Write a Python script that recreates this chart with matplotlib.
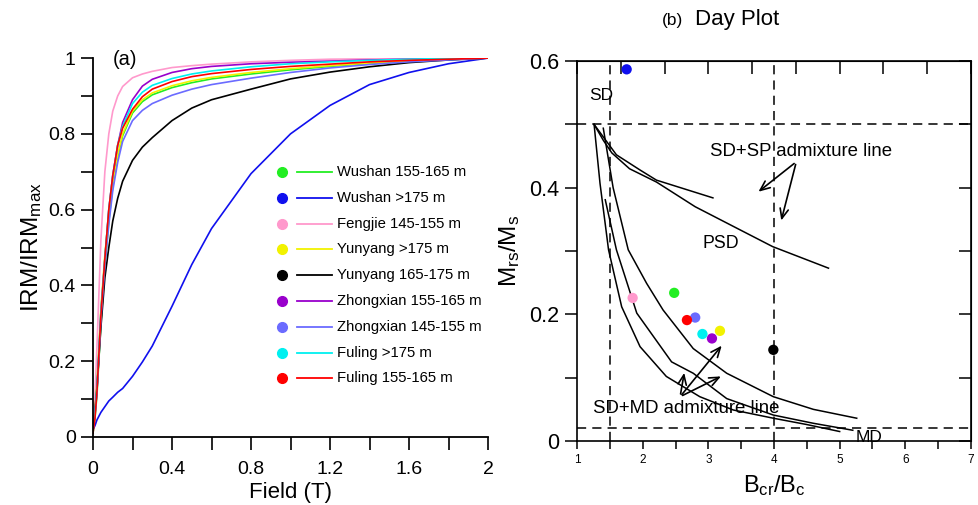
import matplotlib
matplotlib.use("Agg")
import matplotlib.pyplot as plt
import numpy as np

plt.rcParams['font.family'] = ['Liberation Sans', 'DejaVu Sans']
plt.rcParams['mathtext.fontset'] = 'custom'
plt.rcParams['mathtext.rm'] = 'Liberation Sans'
plt.rcParams['mathtext.it'] = 'Liberation Sans'

# ---- data ----
names = ['Wushan 155-165 m', 'Wushan >175 m', 'Fengjie 145-155 m', 'Yunyang >175 m',
         'Yunyang 165-175 m', 'Zhongxian 155-165 m', 'Zhongxian 145-155 m',
         'Fuling >175 m', 'Fuling 155-165 m']
colors = ['#22ee22', '#1010ee', '#ff99cc', '#f2f200', '#000000',
          '#9900cc', '#6b6bff', '#00f0f0', '#ff0000']

field = [0, 0.01, 0.02, 0.04, 0.06, 0.08, 0.1, 0.125, 0.15, 0.2, 0.25, 0.3,
         0.4, 0.5, 0.6, 0.8, 1.0, 1.2, 1.4, 1.6, 1.8, 2.0]
irm_wushan_155 = [0.01, 0.05, 0.11, 0.30, 0.45, 0.57, 0.66, 0.74, 0.795, 0.855, 0.885, 0.903,
                  0.922, 0.935, 0.945, 0.958, 0.969, 0.978, 0.986, 0.992, 0.996, 1.0]
irm_wushan_175 = [0.02, 0.03, 0.045, 0.065, 0.08, 0.095, 0.105, 0.118, 0.128, 0.16, 0.198, 0.24,
                  0.345, 0.455, 0.55, 0.695, 0.80, 0.875, 0.93, 0.962, 0.985, 1.0]
irm_fengjie_145 = [0.02, 0.11, 0.24, 0.52, 0.70, 0.80, 0.86, 0.90, 0.925, 0.948, 0.958, 0.965,
                   0.975, 0.98, 0.984, 0.99, 0.994, 0.997, 0.998, 0.999, 1.0, 1.0]
irm_yunyang_175 = [0.02, 0.07, 0.14, 0.34, 0.48, 0.59, 0.67, 0.745, 0.80, 0.86, 0.89, 0.908,
                   0.927, 0.94, 0.949, 0.962, 0.972, 0.98, 0.987, 0.993, 0.997, 1.0]
irm_yunyang_165 = [0.03, 0.07, 0.13, 0.29, 0.42, 0.50, 0.57, 0.63, 0.675, 0.73, 0.765, 0.79,
                   0.835, 0.868, 0.89, 0.918, 0.945, 0.963, 0.977, 0.988, 0.995, 1.0]
irm_zhongxian_155 = [0.02, 0.06, 0.12, 0.33, 0.47, 0.60, 0.69, 0.77, 0.83, 0.89, 0.926, 0.944,
                     0.962, 0.972, 0.978, 0.985, 0.989, 0.992, 0.995, 0.997, 0.999, 1.0]
irm_zhongxian_145 = [0.02, 0.06, 0.12, 0.31, 0.45, 0.56, 0.65, 0.725, 0.78, 0.835, 0.862, 0.88,
                     0.902, 0.918, 0.93, 0.947, 0.962, 0.974, 0.983, 0.99, 0.995, 1.0]
irm_fuling_175 = [0.02, 0.06, 0.13, 0.33, 0.47, 0.60, 0.69, 0.77, 0.82, 0.88, 0.91, 0.928,
                  0.946, 0.958, 0.966, 0.977, 0.985, 0.99, 0.994, 0.997, 0.999, 1.0]
irm_fuling_155 = [0.01, 0.05, 0.12, 0.32, 0.47, 0.60, 0.69, 0.77, 0.815, 0.865, 0.898, 0.918,
                  0.938, 0.951, 0.959, 0.97, 0.978, 0.984, 0.99, 0.994, 0.997, 1.0]
irm_curves = [irm_wushan_155, irm_wushan_175, irm_fengjie_145, irm_yunyang_175,
              irm_yunyang_165, irm_zhongxian_155, irm_zhongxian_145,
              irm_fuling_175, irm_fuling_155]

# Day plot points (same order as names)
bcr_bc = [2.48, 1.756, 1.847, 3.177, 3.99, 3.055, 2.80, 2.91, 2.674]
mrs_ms = [0.234, 0.587, 0.226, 0.174, 0.144, 0.162, 0.195, 0.169, 0.191]

# reference mixing curves (Dunlop 2002)
sdmd1_x = [1.26, 1.35, 1.48, 1.68, 1.96, 2.36, 2.87, 3.38, 3.99, 4.5, 5.0]
sdmd1_y = [0.50, 0.407, 0.302, 0.212, 0.149, 0.102, 0.070, 0.049, 0.036, 0.026, 0.015]
sdmd2_x = [1.43, 1.60, 1.91, 2.44, 2.77, 3.28, 3.99, 4.6, 5.2]
sdmd2_y = [0.381, 0.302, 0.202, 0.125, 0.107, 0.067, 0.041, 0.028, 0.017]
sdmd3_x = [1.40, 1.55, 1.78, 2.06, 2.31, 2.77, 3.28, 3.99, 4.6, 5.26]
sdmd3_y = [0.494, 0.40, 0.302, 0.249, 0.207, 0.146, 0.107, 0.070, 0.050, 0.036]
sdsp1_x = [1.26, 1.60, 1.96, 2.21, 3.07]
sdsp1_y = [0.50, 0.452, 0.428, 0.412, 0.384]
sdsp2_x = [1.26, 1.40, 1.53, 1.80, 2.21, 2.80, 3.38, 3.98, 4.83]
sdsp2_y = [0.50, 0.475, 0.455, 0.43, 0.409, 0.37, 0.339, 0.307, 0.273]

fig = plt.figure(figsize=(9.79, 5.05), dpi=100)

# ---- (a) IRM acquisition ----
ax1 = fig.add_axes([0.095, 0.1347, 0.4035, 0.7503])
for y, c in zip(irm_curves, colors):
    ax1.plot(field, y, color=c, lw=1.2)
ax1.set_xlim(0, 2)
ax1.set_ylim(0, 1)
ax1.spines['top'].set_visible(False)
ax1.spines['right'].set_visible(False)
ax1.spines['left'].set_linewidth(1.3)
ax1.spines['bottom'].set_linewidth(1.3)
ax1.set_xticks(np.arange(0, 2.01, 0.4))
ax1.set_xticks(np.arange(0, 2.01, 0.2), minor=True)
ax1.set_xticklabels(['0', '0.4', '0.8', '1.2', '1.6', '2'])
ax1.set_yticks(np.arange(0, 1.01, 0.2))
ax1.set_yticks(np.arange(0, 1.01, 0.1), minor=True)
ax1.set_yticklabels(['0', '0.2', '0.4', '0.6', '0.8', '1'])
ax1.tick_params(which='both', length=9, width=1.2, direction='out', labelsize=14)
ax1.tick_params(axis='x', pad=8)
ax1.set_xlabel('Field (T)', fontsize=16)
ax1.set_ylabel('IRM/IRM$_{\\mathrm{max}}$', fontsize=17.5)
ax1.xaxis.set_label_coords(0.5, -0.118)
ax1.yaxis.set_label_coords(-0.125, 0.5)
ax1.text(0.05, 0.995, '(a)', transform=ax1.transAxes, fontsize=14.5, va='center', ha='left')

# legend drawn row by row
for i, (n, c) in enumerate(zip(names, colors)):
    yy = (437 - (172 + 25.8 * i)) / 379
    ax1.plot([0.478], [yy], 'o', color=c, ms=7, transform=ax1.transAxes, clip_on=False)
    ax1.plot([0.516, 0.605], [yy, yy], color=c, lw=1.3, transform=ax1.transAxes)
    ax1.text(0.618, yy, n, transform=ax1.transAxes, fontsize=10.7, va='center', ha='left')

# ---- (b) Day plot ----
ax2 = fig.add_axes([0.5894, 0.1267, 0.4024, 0.7523])
ax2.set_xlim(1, 7)
ax2.set_ylim(0, 0.6)
for xs, ys in [(sdmd1_x, sdmd1_y), (sdmd2_x, sdmd2_y), (sdmd3_x, sdmd3_y),
               (sdsp1_x, sdsp1_y), (sdsp2_x, sdsp2_y)]:
    ax2.plot(xs, ys, color='k', lw=1.1)
dash = dict(color='k', lw=1.1, dashes=(6, 4))
ax2.axhline(0.5, **dash)
ax2.axhline(0.02, **dash)
ax2.axvline(1.5, **dash)
ax2.axvline(4.0, **dash)
ax2.scatter(bcr_bc, mrs_ms, s=55, c=colors, zorder=5, edgecolors='none', clip_on=False)

ax2.set_xticks(np.arange(1, 7.01, 1))
ax2.set_xticks(np.arange(1, 7.01, 0.5), minor=True)
ax2.set_yticks([0, 0.2, 0.4, 0.6])
ax2.set_yticklabels(['0', '0.2', '0.4', '0.6'])
ax2.set_yticks(np.arange(0, 0.61, 0.1), minor=True)
ax2.tick_params(axis='x', which='both', length=6, width=1.1, direction='out', labelsize=8.5,
                top=False)
ax2.tick_params(axis='y', which='both', length=9, width=1.1, direction='out', labelsize=15.5)
for s in ax2.spines.values():
    s.set_linewidth(1.2)
ax2r = ax2.secondary_yaxis('right')
ax2r.set_yticks(np.arange(0, 0.61, 0.1))
ax2r.tick_params(length=9, width=1.1, direction='in', labelright=False)
ax2t = ax2.secondary_xaxis('top')
ax2t.set_xticks(np.linspace(1, 7, 10))
ax2t.tick_params(length=9, width=1.1, direction='in', labeltop=False)

ax2.set_xlabel('B$_{\\mathrm{cr}}$/B$_{\\mathrm{c}}$', fontsize=17)
ax2.set_ylabel('M$_{\\mathrm{rs}}$/M$_{\\mathrm{s}}$', fontsize=17.5)
ax2.xaxis.set_label_coords(0.502, -0.085)
ax2.yaxis.set_label_coords(-0.14, 0.5)

ax2.text(1.365, 0.545, 'SD', fontsize=12.5, ha='center', va='center')
ax2.text(3.19, 0.312, 'PSD', fontsize=12.8, ha='center', va='center')
ax2.text(5.45, 0.005, 'MD', fontsize=12.5, ha='center', va='center')
ax2.text(3.02, 0.457, 'SD+SP admixture line', fontsize=13.4, ha='left', va='center')
ax2.text(1.244, 0.051, 'SD+MD admixture line', fontsize=13.4, ha='left', va='center')

arr = dict(arrowstyle='->,head_length=0.7,head_width=0.3', color='k', lw=1.2)
for tip in [(3.73, 0.391), (4.10, 0.344)]:
    ax2.annotate('', xy=tip, xytext=(4.34, 0.441), arrowprops=arr)
for tip in [(2.64, 0.112), (3.23, 0.154), (3.23, 0.104)]:
    ax2.annotate('', xy=tip, xytext=(2.57, 0.07), arrowprops=arr)

fig.text(673 / 979, 1 - 20 / 505, '(b)', fontsize=12.4, ha='center', va='center')
fig.text(695 / 979, 1 - 20 / 505, 'Day Plot', fontsize=16, ha='left', va='center')

fig.savefig('out.png', dpi=100)
